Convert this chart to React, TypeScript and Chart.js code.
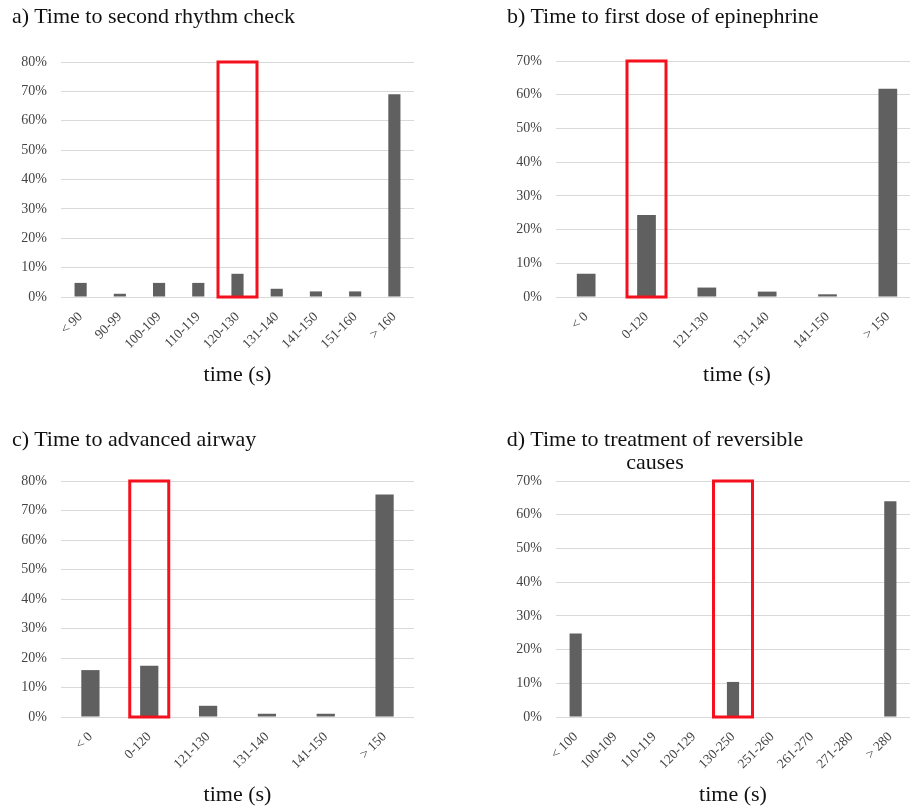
import React, { useEffect, useRef } from "react";
import { Chart, registerables } from "chart.js";

Chart.register(...registerables);

// ---------- data ----------
const TITLE_A = "a) Time to second rhythm check";
const LABELS_A = ["< 90", "90-99", "100-109", "110-119", "120-130", "131-140", "141-150", "151-160", "> 160"];
const VALUES_A = [4.8, 1.1, 4.8, 4.8, 7.9, 2.8, 1.9, 1.9, 69];
const MAX_A = 80;
const HIGHLIGHT_A = "120-130";

const TITLE_B = "b) Time to first dose of epinephrine";
const LABELS_B = ["< 0", "0-120", "121-130", "131-140", "141-150", "> 150"];
const VALUES_B = [6.9, 24.3, 2.8, 1.6, 0.8, 61.8];
const MAX_B = 70;
const HIGHLIGHT_B = "0-120";

const TITLE_C = "c) Time to advanced airway";
const LABELS_C = ["< 0", "0-120", "121-130", "131-140", "141-150", "> 150"];
const VALUES_C = [15.9, 17.4, 3.8, 1.1, 1.1, 75.4];
const MAX_C = 80;
const HIGHLIGHT_C = "0-120";

const TITLE_D_LINES = ["d) Time to treatment of reversible", "causes"];
const LABELS_D = ["< 100", "100-109", "110-119", "120-129", "130-250", "251-260", "261-270", "271-280", "> 280"];
const VALUES_D = [24.8, 0, 0, 0, 10.4, 0, 0, 0, 64];
const MAX_D = 70;
const HIGHLIGHT_D = "130-250";

const X_TITLE = "time (s)";
const Y_STEP = 10;

// ---------- styles ----------
const FONT = "'Liberation Serif', 'Times New Roman', serif";
const BAR_COLOR = "#606060";
const GRID_COLOR = "#d9d9d9";
const TICK_COLOR = "#444444";
const BOX_COLOR = "#f5101e";

const highlightPlugin = {
  id: "highlightBox",
  afterDatasetsDraw(chart: any, _args: any, opts: any) {
    const labels = chart.data.labels as string[];
    const idx = labels.indexOf(opts.label);
    if (idx < 0) return;
    const xs = chart.scales.x;
    const ys = chart.scales.y;
    const x = xs.getPixelForValue(idx);
    const yTop = ys.getPixelForValue(ys.max);
    const yBot = ys.getPixelForValue(0);
    const ctx = chart.ctx;
    ctx.save();
    ctx.strokeStyle = opts.color;
    ctx.lineWidth = opts.lineWidth;
    ctx.strokeRect(x - opts.halfWidth, yTop, opts.halfWidth * 2, yBot - yTop);
    ctx.restore();
  },
};

type PanelProps = {
  labels: string[];
  values: number[];
  max: number;
  highlight: string;
  left: number;
  top: number;
  width: number;
  height: number;
  padTop: number;
  padRight: number;
  yWidth: number;
  xHeight: number;
  xTitlePad: number;
};

function Panel(p: PanelProps) {
  const ref = useRef<HTMLCanvasElement | null>(null);
  useEffect(() => {
    if (!ref.current) return;
    const chart = new Chart(ref.current, {
      type: "bar",
      data: {
        labels: p.labels,
        datasets: [
          {
            data: p.values,
            backgroundColor: BAR_COLOR,
            borderWidth: 0,
            barPercentage: 0.31,
            categoryPercentage: 1,
          },
        ],
      },
      plugins: [highlightPlugin],
      options: {
        responsive: false,
        animation: false,
        devicePixelRatio: 1,
        layout: { padding: { top: p.padTop, right: p.padRight, left: 0, bottom: 0 } },
        plugins: {
          legend: { display: false },
          tooltip: { enabled: false },
          title: { display: false },
          highlightBox: { label: p.highlight, color: BOX_COLOR, lineWidth: 3, halfWidth: 19.5 },
        } as any,
        scales: {
          x: {
            grid: { display: false, drawTicks: false },
            border: { display: false },
            ticks: {
              autoSkip: false,
              minRotation: 45,
              maxRotation: 45,
              padding: 12,
              color: TICK_COLOR,
              font: { family: FONT, size: 13.5 },
            },
            title: {
              display: true,
              text: X_TITLE,
              color: "#111",
              font: { family: FONT, size: 22 },
              padding: { top: 0, bottom: p.xTitlePad },
            },
            afterFit: (axis: any) => {
              axis.height = p.xHeight;
            },
          },
          y: {
            min: 0,
            max: p.max,
            grid: { color: GRID_COLOR, lineWidth: 1, drawTicks: false },
            border: { display: false },
            ticks: {
              stepSize: Y_STEP,
              padding: 14,
              color: TICK_COLOR,
              font: { family: FONT, size: 14 },
              callback: (v: any) => v + "%",
            },
            afterFit: (axis: any) => {
              axis.width = p.yWidth;
            },
          },
        },
      },
    });
    return () => chart.destroy();
  }, []);
  return (
    <canvas
      ref={ref}
      width={p.width}
      height={p.height}
      style={{ position: "absolute", left: p.left, top: p.top, width: p.width, height: p.height }}
    />
  );
}

const titleStyle: React.CSSProperties = {
  position: "absolute",
  fontFamily: FONT,
  fontSize: 22,
  lineHeight: "22px",
  color: "#111",
  whiteSpace: "nowrap",
};

export default function App() {
  return (
    <div
      style={{
        position: "absolute",
        left: 0,
        top: 0,
        width: 910,
        height: 808,
        overflow: "hidden",
        background: "#fff",
      }}
    >
      <Panel labels={LABELS_A} values={VALUES_A} max={MAX_A} highlight={HIGHLIGHT_A}
        left={0} top={0} width={455} height={400} padTop={62} padRight={41} yWidth={61} xHeight={103} xTitlePad={12} />
      <Panel labels={LABELS_B} values={VALUES_B} max={MAX_B} highlight={HIGHLIGHT_B}
        left={455} top={0} width={480} height={400} padTop={61} padRight={17} yWidth={101} xHeight={103} xTitlePad={12} />
      <Panel labels={LABELS_C} values={VALUES_C} max={MAX_C} highlight={HIGHLIGHT_C}
        left={0} top={400} width={455} height={408} padTop={81} padRight={41} yWidth={61} xHeight={91} xTitlePad={0} />
      <Panel labels={LABELS_D} values={VALUES_D} max={MAX_D} highlight={HIGHLIGHT_D}
        left={455} top={400} width={470} height={408} padTop={81} padRight={15} yWidth={101} xHeight={91} xTitlePad={0} />

      <div style={{ ...titleStyle, left: 12, top: 5 }}>{TITLE_A}</div>
      <div style={{ ...titleStyle, left: 507, top: 5 }}>{TITLE_B}</div>
      <div style={{ ...titleStyle, left: 12, top: 428 }}>{TITLE_C}</div>
      <div
        style={{
          ...titleStyle,
          left: 455,
          width: 400,
          top: 427,
          lineHeight: "23px",
          textAlign: "center",
        }}
      >
        {TITLE_D_LINES[0]}
        <br />
        {TITLE_D_LINES[1]}
      </div>
    </div>
  );
}
